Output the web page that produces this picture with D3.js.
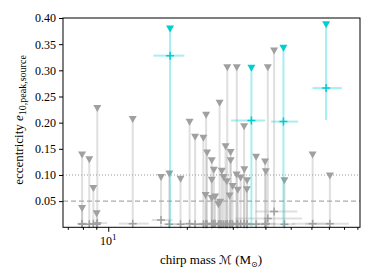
<!DOCTYPE html>
<html>
<head>
<meta charset="utf-8">
<script src="https://cdn.jsdelivr.net/npm/d3@7"></script>
<style>
  body { margin: 0; background: #fff; }
  svg text { font-family: "Liberation Serif", "DejaVu Serif", serif; fill: #000; }
</style>
</head>
<body>
<svg id="chart" width="374" height="280"></svg>
<script>
// gray events: chirp mass, 90% mass range, median eccentricity, upper limit
var grayMass = [7.94, 7.94, 8.46, 8.77, 9.08, 9.03, 12.41, 15.93, 17.14, 18.92, 20.49, 21.51, 23.14, 23.70, 23.90, 24.92, 25.37, 24.92, 23.59, 24.92,
                26.70, 28.57, 31.07, 33.14, 28.15, 29.42, 29.42, 36.84, 27.22, 31.02, 33.20, 27.66, 28.44, 32.14, 34.03, 29.94, 31.34, 33.94, 25.66, 26.82,
                26.42, 29.16, 39.89, 40.13, 40.85, 43.18, 47.29, 60.64, 70.63];
var grayLo = [7.60, 7.70, 8.20, 8.45, 8.75, 8.70, 10.97, 14.7, 16.3, 17.9, 19.4, 20.4, 21.8, 22.3, 22.6, 23.5, 23.9, 23.4, 22.2, 23.5,
              25.0, 26.6, 29.0, 30.9, 26.4, 27.5, 27.6, 34.0, 25.5, 29.0, 31.0, 25.9, 26.6, 30.0, 31.7, 28.0, 29.3, 31.6, 24.1, 25.2,
              24.8, 27.3, 36.5, 36.8, 30.7, 36.6, 43.0, 50.5, 56.8];
var grayHi = [8.30, 8.20, 8.75, 9.10, 9.90, 9.40, 14.29, 17.6, 18.1, 20.0, 21.6, 22.7, 24.5, 25.2, 25.3, 26.4, 26.9, 26.5, 25.0, 26.4,
              28.5, 30.6, 33.3, 35.5, 30.0, 31.5, 31.3, 40.0, 29.0, 33.2, 35.6, 29.5, 30.4, 34.4, 36.5, 32.0, 33.5, 36.4, 27.3, 28.5,
              28.1, 31.1, 43.5, 43.8, 55.2, 53.0, 52.0, 69.9, 83.5];
var grayMed = [0.007, 0.006, 0.006, 0.007, 0.008, 0.006, 0.007, 0.014, 0.006, 0.006, 0.007, 0.006, 0.006, 0.007, 0.006, 0.006, 0.007, 0.006, 0.006, 0.007,
               0.006, 0.006, 0.006, 0.007, 0.006, 0.006, 0.007, 0.006, 0.006, 0.007, 0.006, 0.006, 0.006, 0.007, 0.006, 0.006, 0.006, 0.006, 0.007, 0.006,
               0.006, 0.006, 0.006, 0.007, 0.017, 0.030, 0.006, 0.007, 0.007];
var grayUp = [0.138, 0.036, 0.129, 0.074, 0.227, 0.026, 0.206, 0.095, 0.102, 0.092, 0.201, 0.172, 0.170, 0.214, 0.142, 0.127, 0.109, 0.090, 0.061, 0.055,
              0.237, 0.305, 0.305, 0.192, 0.154, 0.143, 0.127, 0.134, 0.107, 0.100, 0.110, 0.095, 0.087, 0.094, 0.089, 0.078, 0.071, 0.072, 0.058, 0.048,
              0.043, 0.060, 0.125, 0.106, 0.305, 0.337, 0.089, 0.138, 0.098];

// cyan events (measured eccentricity)
var cyanMass = [17.25, 35.34, 46.88, 68.31];
var cyanLo = [14.89, 29.54, 42.03, 60.59];
var cyanHi = [19.57, 39.89, 53.36, 78.45];
var cyanMed = [0.328, 0.204, 0.202, 0.266];
var cyanLow = [0, 0, 0, 0.205];
var cyanUp = [0.379, 0.304, 0.342, 0.387];

var yTicks = [0.05, 0.10, 0.15, 0.20, 0.25, 0.30, 0.35, 0.40];
var xMinorTicks = [7, 8, 9, 20, 30, 40, 50, 60, 70, 80, 90];
var refLines = [0.10, 0.05];

var grayColor = "#a0a0a0";
var cyanColor = "#00ced1";
var triPath = "M-4,-3.5L4,-3.5L0,3.5Z";
var crossPath = "M-4,0H4M0,-4V4";

var svg = d3.select("#chart");
var pLeft = 63, pRight = 360, pTop = 18, pBottom = 227.3;

var x = d3.scaleLog().domain([6.71, 92.1]).range([pLeft, pRight]);
var y = d3.scaleLinear().domain([0, 0.40]).range([pBottom, pTop]);

var grayData = grayMass.map(function (m, i) {
    return {m: m, lo: grayLo[i], hi: grayHi[i], med: grayMed[i], up: grayUp[i]};
});
var cyanData = cyanMass.map(function (m, i) {
    return {m: m, lo: cyanLo[i], hi: cyanHi[i], med: cyanMed[i], low: cyanLow[i], up: cyanUp[i]};
});

var plot = svg.append("g");

// reference lines
plot.append("line").attr("x1", pLeft).attr("x2", pRight).attr("y1", y(refLines[0])).attr("y2", y(refLines[0]))
    .style("stroke", "#999").style("stroke-width", 1).style("stroke-dasharray", "1,2");
plot.append("line").attr("x1", pLeft).attr("x2", pRight).attr("y1", y(refLines[1])).attr("y2", y(refLines[1]))
    .style("stroke", "#aaa").style("stroke-width", 1.2).style("stroke-dasharray", "5,3");

// gray error bars
var gg = plot.selectAll(".gray").data(grayData).enter().append("g");
gg.append("line")
    .attr("x1", function (d) { return x(d.m); }).attr("x2", function (d) { return x(d.m); })
    .attr("y1", y(0)).attr("y2", function (d) { return y(d.up); })
    .style("stroke", "#aaa").style("stroke-opacity", 0.38).style("stroke-width", 2);
gg.append("line")
    .attr("x1", function (d) { return x(d.lo); }).attr("x2", function (d) { return x(d.hi); })
    .attr("y1", function (d) { return y(d.med); }).attr("y2", function (d) { return y(d.med); })
    .style("stroke", "#aaa").style("stroke-opacity", 0.38).style("stroke-width", 2);

// gray markers
plot.selectAll(".gcross").data(grayData).enter().append("path")
    .attr("d", crossPath)
    .attr("transform", function (d) { return "translate(" + x(d.m) + "," + y(d.med) + ")"; })
    .style("stroke", grayColor).style("stroke-width", 1.5).style("fill", "none");
plot.selectAll(".gtri").data(grayData).enter().append("path")
    .attr("d", triPath)
    .attr("transform", function (d) { return "translate(" + x(d.m) + "," + y(d.up) + ")"; })
    .style("fill", grayColor);

// cyan error bars
var cg = plot.selectAll(".cyan").data(cyanData).enter().append("g");
cg.append("line")
    .attr("x1", function (d) { return x(d.m); }).attr("x2", function (d) { return x(d.m); })
    .attr("y1", function (d) { return y(d.low); }).attr("y2", function (d) { return y(d.up); })
    .style("stroke", cyanColor).style("stroke-opacity", 0.35).style("stroke-width", 2);
cg.append("line")
    .attr("x1", function (d) { return x(d.lo); }).attr("x2", function (d) { return x(d.hi); })
    .attr("y1", function (d) { return y(d.med); }).attr("y2", function (d) { return y(d.med); })
    .style("stroke", cyanColor).style("stroke-opacity", 0.35).style("stroke-width", 2);
cg.append("path")
    .attr("d", crossPath)
    .attr("transform", function (d) { return "translate(" + x(d.m) + "," + y(d.med) + ")"; })
    .style("stroke", cyanColor).style("stroke-width", 1.5).style("fill", "none");
cg.append("path")
    .attr("d", triPath)
    .attr("transform", function (d) { return "translate(" + x(d.m) + "," + y(d.up) + ")"; })
    .style("fill", cyanColor);

// frame
svg.append("rect").attr("x", pLeft).attr("y", pTop).attr("width", pRight - pLeft).attr("height", pBottom - pTop)
    .style("fill", "none").style("stroke", "#000").style("stroke-width", 1);

// y axis
var yAxis = svg.append("g").attr("transform", "translate(" + pLeft + ",0)")
    .call(d3.axisLeft(y).tickValues(yTicks).tickFormat(d3.format(".2f")).tickSize(4).tickPadding(3));
yAxis.select(".domain").remove();
yAxis.selectAll("text").style("font-size", "12px").style("font-family", "Liberation Serif, serif");

// x axis minor ticks
var xAxis = svg.append("g").attr("transform", "translate(0," + pBottom + ")")
    .call(d3.axisBottom(x).tickValues(xMinorTicks).tickFormat("").tickSize(2.5));
xAxis.select(".domain").remove();
// major tick 10^1
var xMajor = svg.append("g").attr("transform", "translate(0," + pBottom + ")")
    .call(d3.axisBottom(x).tickValues([10]).tickFormat("").tickSize(4.5));
xMajor.select(".domain").remove();

var lab = svg.append("text").attr("x", x(10)).attr("y", 245).attr("text-anchor", "middle").style("font-size", "12px");
lab.append("tspan").text("10");
lab.append("tspan").text("1").attr("dy", -5).style("font-size", "9px");

// axis labels
var xl = svg.append("text").attr("x", 211).attr("y", 264).attr("text-anchor", "middle").style("font-size", "13px");
xl.append("tspan").text("chirp mass ");
xl.append("tspan").text("ℳ").style("font-family", "DejaVu Sans, sans-serif").style("font-size", "12px");
xl.append("tspan").text(" (M");
xl.append("tspan").text("⊙").attr("dy", 3).style("font-size", "8px").style("font-family", "DejaVu Sans, sans-serif");
xl.append("tspan").text(")").attr("dy", -3);

var yl = svg.append("text").attr("transform", "translate(23,120) rotate(-90)").attr("text-anchor", "middle").style("font-size", "13px");
yl.append("tspan").text("eccentricity ");
yl.append("tspan").text("e").style("font-style", "italic");
yl.append("tspan").text("10,peak,source").attr("dy", 3).style("font-size", "10px");
</script>
</body>
</html>
